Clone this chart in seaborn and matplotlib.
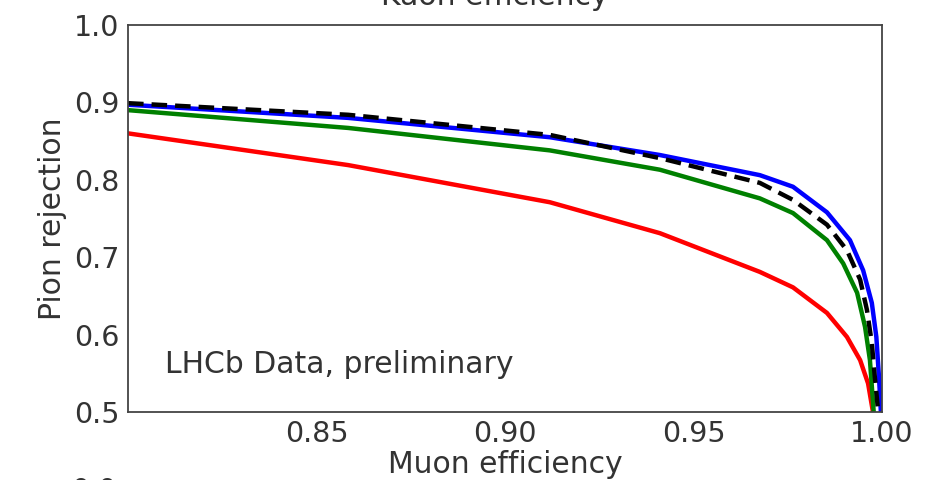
import numpy as np
import pandas as pd
import matplotlib
matplotlib.use("Agg")
import matplotlib.pyplot as plt
import seaborn as sns

# Data
blue_x = [0.800, 0.8584, 0.9119, 0.9411, 0.9676, 0.9764, 0.9854, 0.9915, 0.9950, 0.9973, 0.9985, 0.9992, 0.9997]
blue_y = [0.897, 0.880, 0.855, 0.832, 0.806, 0.791, 0.758, 0.722, 0.683, 0.641, 0.597, 0.545, 0.500]

black_x = [0.800, 0.8584, 0.9119, 0.9411, 0.9676, 0.9764, 0.9854, 0.9907, 0.9942, 0.9960, 0.9973, 0.9981, 0.9990]
black_y = [0.899, 0.884, 0.858, 0.828, 0.796, 0.774, 0.742, 0.709, 0.671, 0.632, 0.589, 0.545, 0.500]

green_x = [0.800, 0.8584, 0.9119, 0.9411, 0.9676, 0.9764, 0.9854, 0.9897, 0.9934, 0.9955, 0.9968, 0.9978]
green_y = [0.890, 0.867, 0.838, 0.813, 0.776, 0.757, 0.722, 0.692, 0.654, 0.610, 0.567, 0.500]

red_x = [0.800, 0.8584, 0.9119, 0.9411, 0.9676, 0.9764, 0.9854, 0.9907, 0.9942, 0.9963, 0.9976]
red_y = [0.860, 0.819, 0.771, 0.731, 0.681, 0.661, 0.628, 0.597, 0.567, 0.537, 0.500]

x_ticks = [0.85, 0.90, 0.95, 1.00]
x_ticklabels = ["0.85", "0.90", "0.95", "1.00"]
y_ticks = [0.5, 0.6, 0.7, 0.8, 0.9, 1.0]
y_ticklabels = ["0.5", "0.6", "0.7", "0.8", "0.9", "1.0"]

sns.set_style("white")
plt.rcParams['font.family'] = ['DejaVu Sans']

fig = plt.figure(figsize=(9.35, 4.8), dpi=100)
ax = fig.add_axes([128/935, 1 - 412/480, (882-128)/935, (412-25)/480])

txt = "#333333"
lw = 3.2
sns.lineplot(x=red_x, y=red_y, ax=ax, color="#ff0000", lw=lw, sort=False, estimator=None)
sns.lineplot(x=green_x, y=green_y, ax=ax, color="#008000", lw=lw, sort=False, estimator=None)
sns.lineplot(x=blue_x, y=blue_y, ax=ax, color="#0000ff", lw=lw, sort=False, estimator=None)
sns.lineplot(x=black_x, y=black_y, ax=ax, color="black", lw=lw, sort=False, estimator=None,
             linestyle=(0, (3.5, 1.8)))

ax.set_xlim(0.8, 1.0)
ax.set_ylim(0.5, 1.0)
ax.set_xticks(x_ticks)
ax.set_xticklabels(x_ticklabels)
ax.set_yticks(y_ticks)
ax.set_yticklabels(y_ticklabels)
ax.tick_params(axis='both', length=0, labelsize=20.5, colors=txt, pad=6)
for s in ax.spines.values():
    s.set_color("#444444")
    s.set_linewidth(1.3)
    s.set_visible(True)

ax.set_xlabel("Muon efficiency", fontsize=21.5, color=txt, labelpad=1)
ax.set_ylabel("Pion rejection", fontsize=21.5, color=txt, labelpad=5)

ax.text(0.049, 0.10, "LHCb Data, preliminary", transform=ax.transAxes,
        fontsize=21.5, color=txt, ha='left', va='baseline')

fig.text(495/935, 1 - 5/480, "Kaon efficiency", fontsize=21.5, color=txt,
         ha='center', va='baseline')
fig.text(117/935, 1 - 477/480, "0.0", fontsize=20.5, color=txt, ha='right', va='top')

fig.savefig("out.png", dpi=100)
